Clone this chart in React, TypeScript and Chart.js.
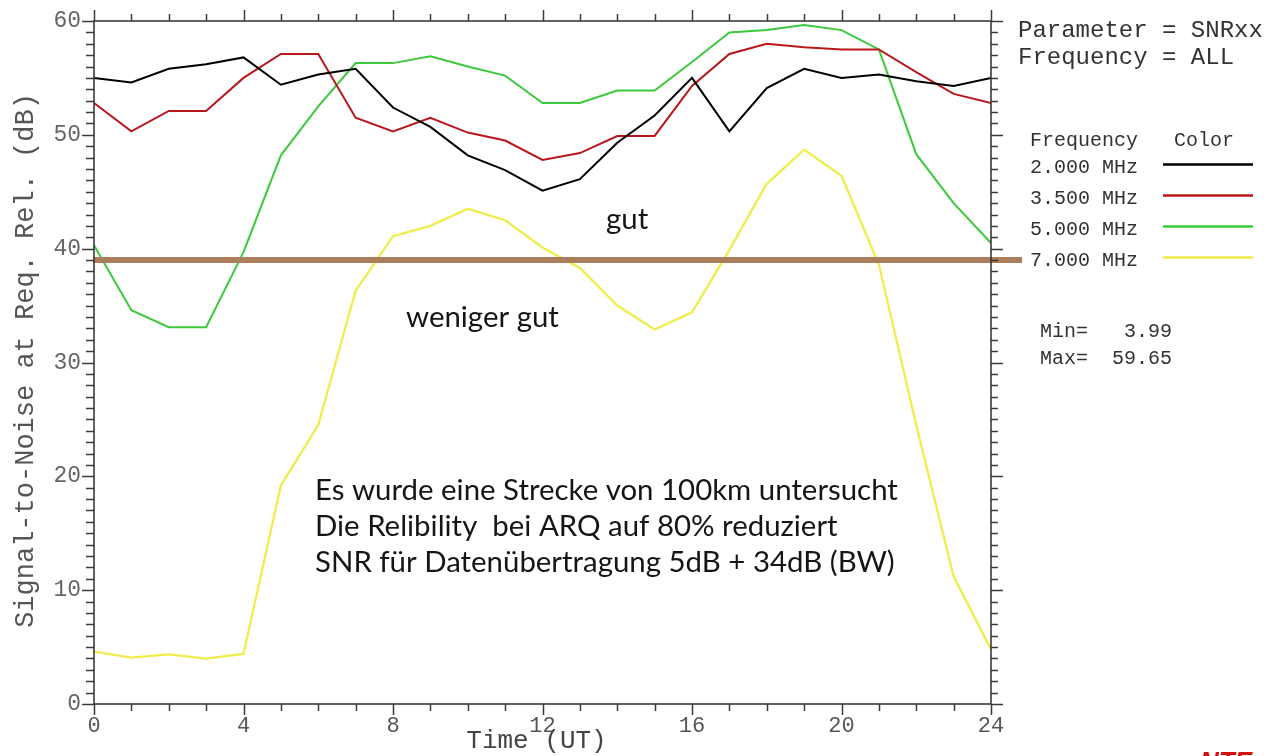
import React, { useEffect, useRef } from "react";
import { Chart, registerables } from "chart.js";

Chart.register(...registerables);

const HOURS = [0, 1, 2, 3, 4, 5, 6, 7, 8, 9, 10, 11, 12, 13, 14, 15, 16, 17, 18, 19, 20, 21, 22, 23, 24];
const SNR_2MHZ = [55.0, 54.6, 55.8, 56.2, 56.8, 54.4, 55.3, 55.8, 52.4, 50.7, 48.2, 46.9, 45.1, 46.1, 49.3, 51.7, 55.0, 50.3, 54.1, 55.8, 55.0, 55.3, 54.7, 54.3, 55.0];
const SNR_3_5MHZ = [52.8, 50.3, 52.1, 52.1, 55.0, 57.1, 57.1, 51.5, 50.3, 51.5, 50.2, 49.5, 47.8, 48.4, 49.9, 49.9, 54.3, 57.1, 58.0, 57.7, 57.5, 57.5, 55.5, 53.6, 52.8];
const SNR_5MHZ = [40.3, 34.6, 33.1, 33.1, 39.7, 48.2, 52.5, 56.3, 56.3, 56.9, 56.0, 55.2, 52.8, 52.8, 53.9, 53.9, 56.4, 59.0, 59.2, 59.65, 59.2, 57.5, 48.3, 44.0, 40.5];
const SNR_7MHZ = [4.6, 4.07, 4.36, 3.99, 4.4, 19.2, 24.5, 36.3, 41.1, 42.0, 43.5, 42.5, 40.1, 38.3, 35.0, 32.9, 34.4, 39.9, 45.7, 48.7, 46.4, 38.6, 24.5, 11.2, 4.8];

const SERIES_LABELS = ["2.000 MHz", "3.500 MHz", "5.000 MHz", "7.000 MHz"];
const SERIES_COLORS = ["#000000", "#b8181c", "#3cc93c", "#eeee4a"];
const THRESHOLD = 39;
const X_TICKS = [0, 4, 8, 12, 16, 20, 24];
const Y_TICKS = [0, 10, 20, 30, 40, 50, 60];
const ANNOTATION_LINES = [
  "Es wurde eine Strecke von 100km untersucht",
  "Die Relibility  bei ARQ auf 80% reduziert",
  "SNR für Datenübertragung 5dB + 34dB (BW)",
];
const INFO_TOP = ["Parameter = SNRxx", "Frequency = ALL"];
const LEGEND_HEADER = "Frequency   Color";
const MIN_MAX = ["Min=   3.99", "Max=  59.65"];
const X_TITLE = "Time (UT)";
const Y_TITLE = "Signal-to-Noise at Req. Rel. (dB)";

const MONO = '"Liberation Mono", "Courier New", monospace';
const SANS = 'Lato, "Open Sans", sans-serif';

const decorPlugin = {
  id: "decor",
  afterDatasetsDraw(chart: any) {
    const { ctx, chartArea: a, scales } = chart;
    const xs = scales.x;
    const ys = scales.y;
    ctx.save();

    // threshold line
    const ty = ys.getPixelForValue(THRESHOLD);
    ctx.strokeStyle = "#ab7e5c";
    ctx.lineWidth = 6;
    ctx.beginPath();
    ctx.moveTo(a.left - 1, ty);
    ctx.lineTo(a.right + 31, ty);
    ctx.stroke();

    // frame
    ctx.strokeStyle = "#3a3a3a";
    ctx.lineWidth = 1.6;
    ctx.strokeRect(a.left, a.top, a.right - a.left, a.bottom - a.top);

    // x ticks (top and bottom)
    ctx.lineWidth = 1.5;
    ctx.beginPath();
    for (let v = xs.min; v <= xs.max; v += 1) {
      const px = Math.round(xs.getPixelForValue(v)) + 0.5;
      const len = v % 4 === 0 ? 11 : 7;
      ctx.moveTo(px, a.bottom);
      ctx.lineTo(px, a.bottom + len);
      ctx.moveTo(px, a.top);
      ctx.lineTo(px, a.top - len);
    }
    // y ticks (left and right)
    for (let v = ys.min; v <= ys.max; v += 1) {
      const py = Math.round(ys.getPixelForValue(v)) + 0.5;
      const major = v % 10 === 0;
      ctx.moveTo(a.left, py);
      ctx.lineTo(a.left - (major ? 12 : 8), py);
      ctx.moveTo(a.right, py);
      ctx.lineTo(a.right + (major ? 12 : 7), py);
    }
    ctx.stroke();

    // axis titles
    ctx.fillStyle = "#444";
    ctx.font = `26px ${MONO}`;
    ctx.textAlign = "center";
    ctx.textBaseline = "alphabetic";
    ctx.fillText(X_TITLE, (a.left + a.right) / 2 - 6, 748);

    ctx.save();
    ctx.translate(33, (a.top + a.bottom) / 2 - 2);
    ctx.rotate(-Math.PI / 2);
    ctx.font = `27px ${MONO}`;
    ctx.fillStyle = "#555";
    ctx.fillText(Y_TITLE, 0, 0);
    ctx.restore();

    // annotations
    ctx.fillStyle = "#151515";
    ctx.textAlign = "left";
    ctx.font = `24px ${SANS}`;
    const w = ctx.measureText(ANNOTATION_LINES[0]).width;
    const size = (24 * 583) / w;
    ctx.font = `${size.toFixed(2)}px ${SANS}`;
    ANNOTATION_LINES.forEach((line, i) => {
      ctx.fillText(line, 315, 500 + i * 36);
    });
    ctx.fillText("gut", 606, 229);
    ctx.fillText("weniger gut", 406, 327);

    // right-side info
    ctx.fillStyle = "#333";
    ctx.font = `24px ${MONO}`;
    ctx.fillText(INFO_TOP[0], 1018, 37);
    ctx.fillText(INFO_TOP[1], 1018, 64);

    ctx.font = `20px ${MONO}`;
    ctx.fillText(LEGEND_HEADER, 1030, 146);
    SERIES_LABELS.forEach((lab, i) => {
      const by = 173 + i * 31;
      ctx.fillStyle = "#333";
      ctx.fillText(lab, 1030, by);
      ctx.strokeStyle = SERIES_COLORS[i];
      ctx.lineWidth = 2.5;
      ctx.beginPath();
      ctx.moveTo(1163, by - 8.5);
      ctx.lineTo(1253, by - 8.5);
      ctx.stroke();
    });
    ctx.fillStyle = "#333";
    ctx.fillText(MIN_MAX[0], 1040, 337);
    ctx.fillText(MIN_MAX[1], 1040, 364);

    // partially visible red logo text at the bottom edge
    ctx.fillStyle = "#d41010";
    ctx.font = `italic bold 26px "Liberation Sans", sans-serif`;
    ctx.textBaseline = "top";
    ctx.fillText("NTE", 1200, 750);

    ctx.restore();
  },
};

export default function App() {
  const ref = useRef<HTMLCanvasElement | null>(null);

  useEffect(() => {
    if (!ref.current) return;
    const series = [SNR_2MHZ, SNR_3_5MHZ, SNR_5MHZ, SNR_7MHZ];
    const chart = new Chart(ref.current, {
      type: "line",
      data: {
        datasets: series.map((vals, i) => ({
          label: SERIES_LABELS[i],
          data: HOURS.map((h, j) => ({ x: h, y: vals[j] })),
          borderColor: SERIES_COLORS[i],
          borderWidth: i === 3 ? 2.3 : 2,
          pointRadius: 0,
          tension: 0,
          fill: false,
        })),
      },
      options: {
        responsive: false,
        devicePixelRatio: 1,
        animation: false,
        layout: { padding: { left: 0, right: 275, top: 21, bottom: 0 } },
        plugins: { legend: { display: false }, tooltip: { enabled: false } },
        scales: {
          x: {
            type: "linear",
            min: 0,
            max: 24,
            afterFit: (s: any) => {
              s.height = 52;
              s.paddingLeft = 0;
              s.paddingRight = 0;
            },
            afterBuildTicks: (s: any) => {
              s.ticks = X_TICKS.map((v) => ({ value: v }));
            },
            grid: { display: false, drawTicks: false },
            border: { display: false },
            ticks: {
              color: "#555",
              font: { family: MONO, size: 22 },
              padding: 9,
              maxRotation: 0,
              autoSkip: false,
            },
          },
          y: {
            type: "linear",
            min: 0,
            max: 60,
            afterFit: (s: any) => {
              s.width = 94;
              s.paddingTop = 0;
              s.paddingBottom = 0;
            },
            afterBuildTicks: (s: any) => {
              s.ticks = Y_TICKS.map((v) => ({ value: v }));
            },
            grid: { display: false, drawTicks: false },
            border: { display: false },
            ticks: {
              color: "#666",
              font: { family: MONO, size: 23 },
              padding: 13,
              autoSkip: false,
            },
          },
        },
      },
      plugins: [decorPlugin],
    });
    return () => chart.destroy();
  }, []);

  return (
    <div style={{ position: "fixed", left: 0, top: 0, width: 1266, height: 756, background: "#fff" }}>
      <canvas ref={ref} width={1266} height={756} />
    </div>
  );
}
